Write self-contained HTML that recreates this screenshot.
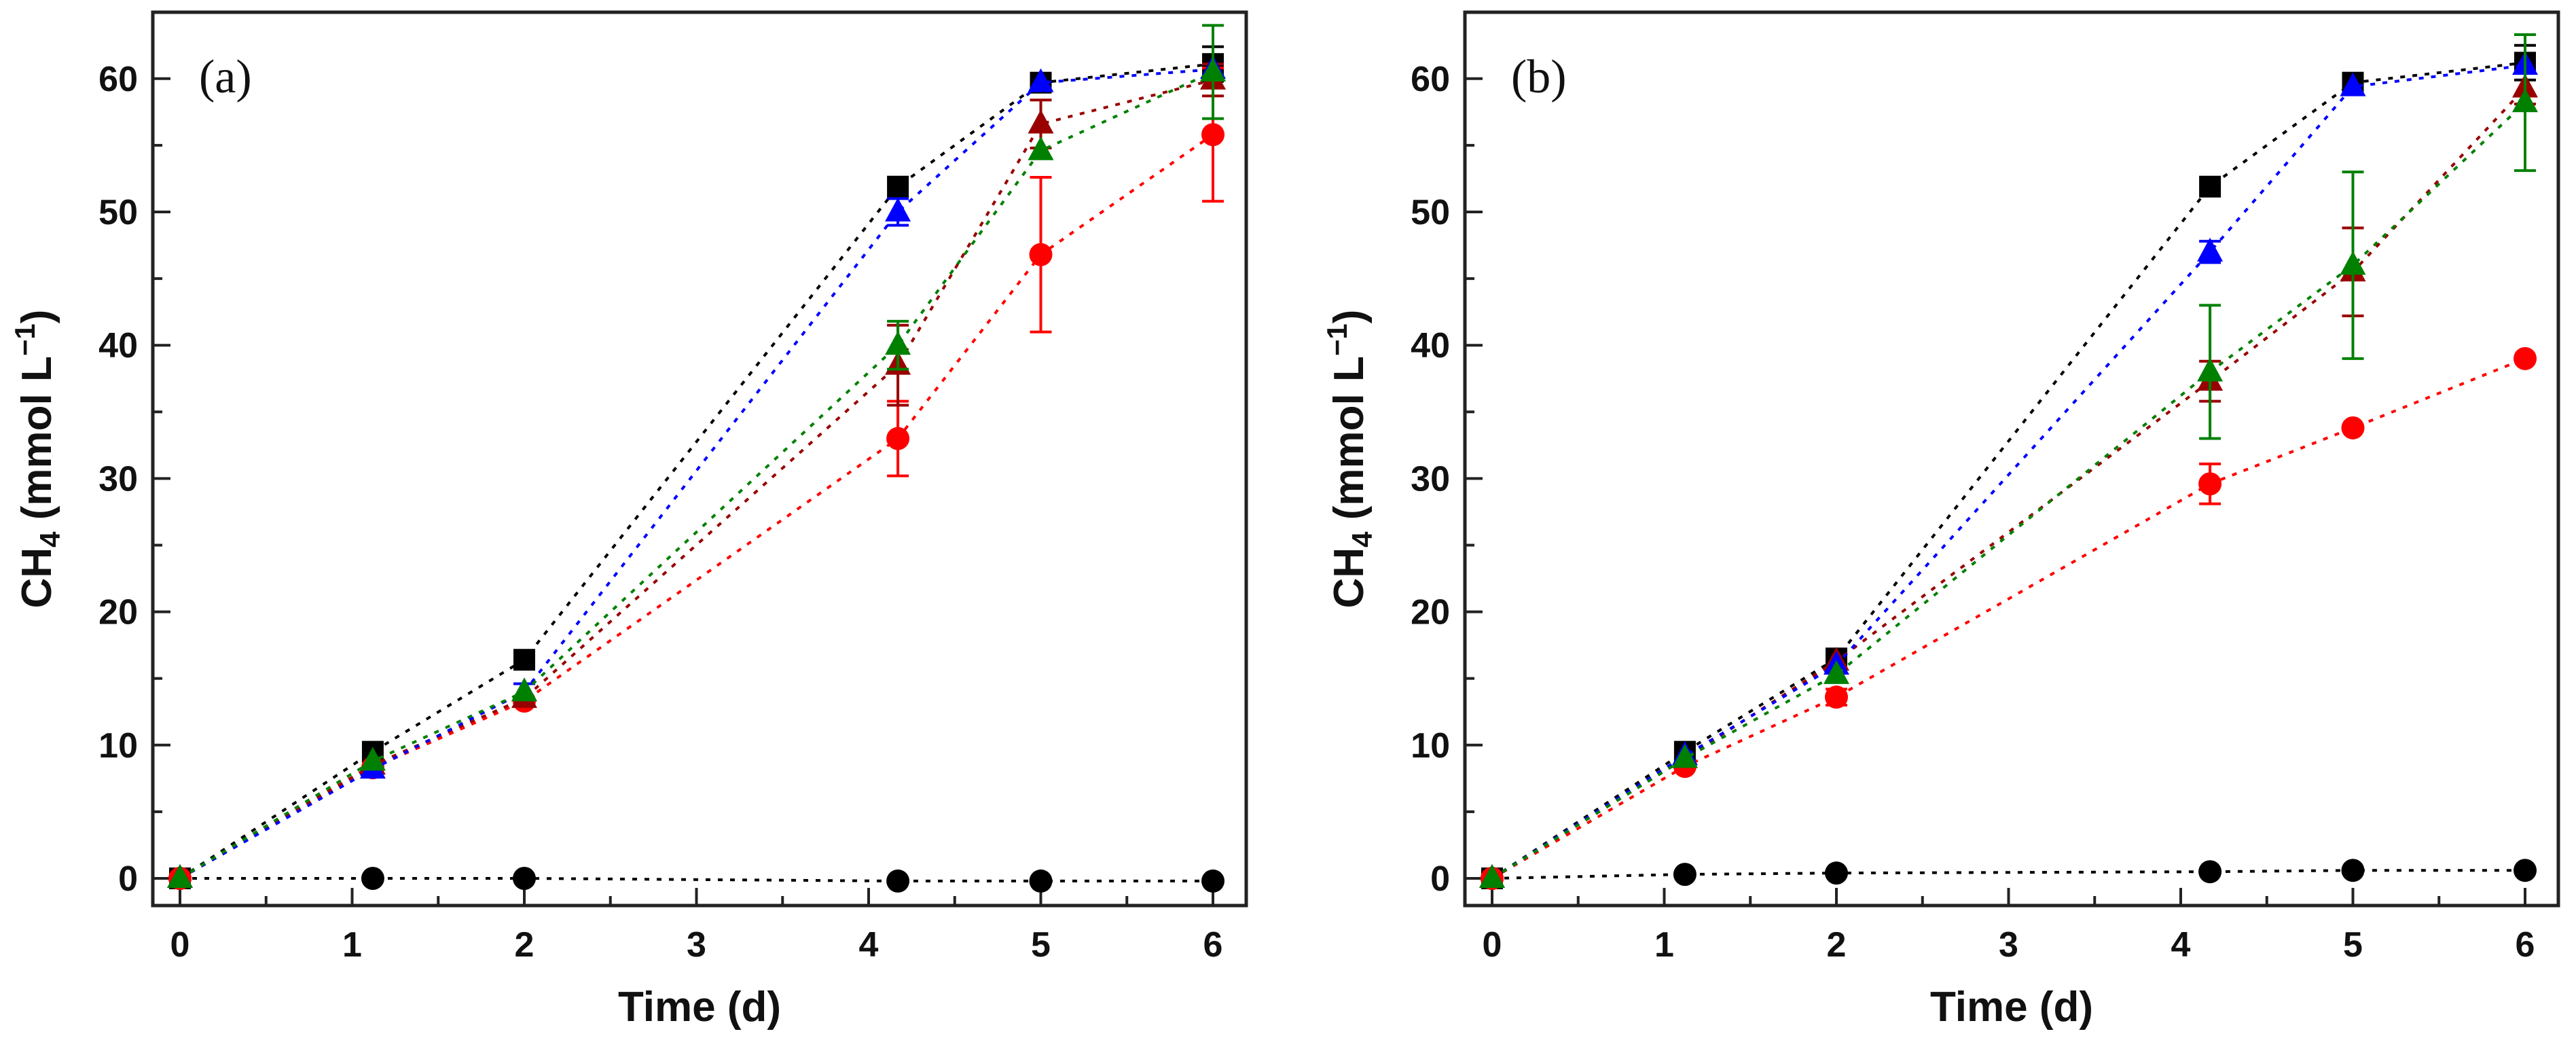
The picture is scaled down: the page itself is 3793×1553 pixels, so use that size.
<!DOCTYPE html>
<html><head><meta charset="utf-8"><style>
html,body{margin:0;padding:0;background:#fff}
svg{display:block}
text{font-family:"Liberation Sans",Arial,sans-serif;font-weight:bold;fill:#111}
</style></head><body>
<svg id="fig" width="3793" height="1553" viewBox="0 0 3793 1553" xmlns="http://www.w3.org/2000/svg"></svg>
<script>
const xDays = [0, 1.12, 2, 4.17, 5, 6];
const xTicks = [0, 1, 2, 3, 4, 5, 6];
const yTicks = [0, 10, 20, 30, 40, 50, 60];
// Panel (a)
const aBlackSq = [0, 9.5, 16.4, 51.9, 59.7, 61.1];
const aBlackSqErr = [0, 0.3, 0.3, 0.3, 0.3, 1.3];
const aBlue = [0, 8.2, 14.0, 50.0, 59.7, 60.7];
const aBlueErr = [0, 0.3, 0.6, 1.0, 0.3, 0.5];
const aDarkRed = [0, 8.5, 13.5, 38.5, 56.6, 59.9];
const aDarkRedErr = [0, 0.3, 0.5, 3.0, 1.8, 1.2];
const aGreen = [0, 8.8, 14.0, 40.0, 54.6, 60.5];
const aGreenErr = [0, 0.3, 0.5, 1.8, 0.5, 3.5];
const aRed = [0, 8.3, 13.3, 33.0, 46.8, 55.8];
const aRedErr = [0, 0.3, 0.4, 2.8, 5.8, 5.0];
const aCtrl = [0, 0, 0, -0.2, -0.2, -0.2];
// Panel (b)
const bBlackSq = [0, 9.5, 16.5, 51.9, 59.7, 61.2];
const bBlackSqErr = [0, 0.3, 0.3, 0.3, 0.3, 1.3];
const bBlue = [0, 9.2, 16.0, 47.0, 59.4, 61.0];
const bBlueErr = [0, 0.3, 0.5, 0.8, 0.3, 0.5];
const bDarkRed = [0, 9.0, 16.3, 37.3, 45.5, 59.3];
const bDarkRedErr = [0, 0.3, 0.4, 1.5, 3.3, 1.2];
const bGreen = [0, 9.0, 15.3, 38.0, 46.0, 58.2];
const bGreenErr = [0, 0.3, 0.5, 5.0, 7.0, 5.1];
const bRed = [0, 8.4, 13.6, 29.6, 33.8, 39.0];
const bRedErr = [0, 0.3, 0.6, 1.5, 0.4, 0.5];
const bCtrl = [0, 0.3, 0.4, 0.5, 0.6, 0.6];

const NS = "http://www.w3.org/2000/svg";
const svg = document.getElementById('fig');
function mk(tag, attrs, parent){const e=document.createElementNS(NS,tag);for(const k in attrs)e.setAttribute(k,attrs[k]);(parent||svg).appendChild(e);return e;}

function panel(ox, label, series){
  const L=ox, R=ox+1610, T=18, B=1333;
  const x0=ox+40, ux=253.5, y0=1293, uy=19.62;
  const X=v=>x0+v*ux, Y=v=>y0-v*uy;
  const g=mk('g',{});
  
  
  const frame=mk('rect',{x:L,y:T,width:R-L,height:B-T,fill:'none',stroke:'#222','stroke-width':5},g);
  
  
  for(let v=0; v<=65; v+=5){
    const major=v%10===0;
    mk('line',{x1:L,x2:L+(major?26:14),y1:Y(v),y2:Y(v),stroke:'#222','stroke-width':4},g);
  }
  yTicks.forEach(v=>{
    const t=mk('text',{x:L-22,y:Y(v)+18,'text-anchor':'end','font-size':52},g);
    t.textContent=v;
    
    
  });
  for(let v=0; v<=6; v+=0.5){
    const major=Math.abs(v-Math.round(v))<1e-9;
    mk('line',{x1:X(v),x2:X(v),y1:B,y2:B-(major?26:14),stroke:'#222','stroke-width':4},g);
  }
  xTicks.forEach(v=>{
    const t=mk('text',{x:X(v),y:1408,'text-anchor':'middle','font-size':52},g);
    t.textContent=v;
    
    
  });
  const xt=mk('text',{x:(L+R)/2,y:1503,'text-anchor':'middle','font-size':62},g);
  xt.textContent='Time (d)';
  
  
  const yt=mk('text',{x:0,y:0,'text-anchor':'middle','font-size':62,transform:`translate(${L-150},${(T+B)/2}) rotate(-90)`},g);
  yt.innerHTML='CH<tspan font-size="42" dy="13">4</tspan><tspan dy="-13"> (mmol L</tspan><tspan font-size="42" dy="-24">−1</tspan><tspan dy="24">)</tspan>';
  
  
  const pl=mk('text',{x:L+68,y:136,'font-size':70,style:'font-family:"Liberation Serif",serif;font-weight:normal'},g);
  pl.textContent='('+label+')';
  
  
  series.forEach(s=>{
    const sg=mk('g',{},g);
    
    
    const pts=xDays.map((d,i)=>X(d)+','+Y(s.v[i])).join(' ');
    mk('polyline',{points:pts,fill:'none',stroke:s.c,'stroke-width':4,'stroke-dasharray':'7 11'},sg);
    if(s.e){
      xDays.forEach((d,i)=>{
        const e=s.e[i]; if(e<0.6) return;
        const cx=X(d);
        mk('line',{x1:cx,x2:cx,y1:Y(s.v[i]-e),y2:Y(s.v[i]+e),stroke:s.c,'stroke-width':4},sg);
        mk('line',{x1:cx-16,x2:cx+16,y1:Y(s.v[i]-e),y2:Y(s.v[i]-e),stroke:s.c,'stroke-width':4},sg);
        mk('line',{x1:cx-16,x2:cx+16,y1:Y(s.v[i]+e),y2:Y(s.v[i]+e),stroke:s.c,'stroke-width':4},sg);
      });
    }
    xDays.forEach((d,i)=>{
      const cx=X(d), cy=Y(s.v[i]); let m;
      if(s.m==='sq') m=mk('rect',{x:cx-16,y:cy-16,width:32,height:32,fill:s.c},sg);
      else if(s.m==='tri') m=mk('polygon',{points:`${cx},${cy-21} ${cx-19},${cy+14} ${cx+19},${cy+14}`,fill:s.c},sg);
      else m=mk('circle',{cx:cx,cy:cy,r:17,fill:s.c},sg);
      
      
    });
  });
}
panel(225,'a',[
  {name:'control-series',v:aCtrl,c:'#000',m:'ci'},
  {name:'black-square-series',v:aBlackSq,e:aBlackSqErr,c:'#000',m:'sq'},
  {name:'red-circle-series',v:aRed,e:aRedErr,c:'#ff0000',m:'ci'},
  {name:'darkred-triangle-series',v:aDarkRed,e:aDarkRedErr,c:'#990000',m:'tri'},
  {name:'blue-triangle-series',v:aBlue,e:aBlueErr,c:'#0000ff',m:'tri'},
  {name:'green-triangle-series',v:aGreen,e:aGreenErr,c:'#008000',m:'tri'}
]);
panel(2157,'b',[
  {name:'control-series',v:bCtrl,c:'#000',m:'ci'},
  {name:'black-square-series',v:bBlackSq,e:bBlackSqErr,c:'#000',m:'sq'},
  {name:'red-circle-series',v:bRed,e:bRedErr,c:'#ff0000',m:'ci'},
  {name:'darkred-triangle-series',v:bDarkRed,e:bDarkRedErr,c:'#990000',m:'tri'},
  {name:'blue-triangle-series',v:bBlue,e:bBlueErr,c:'#0000ff',m:'tri'},
  {name:'green-triangle-series',v:bGreen,e:bGreenErr,c:'#008000',m:'tri'}
]);
</script>
</body></html>
